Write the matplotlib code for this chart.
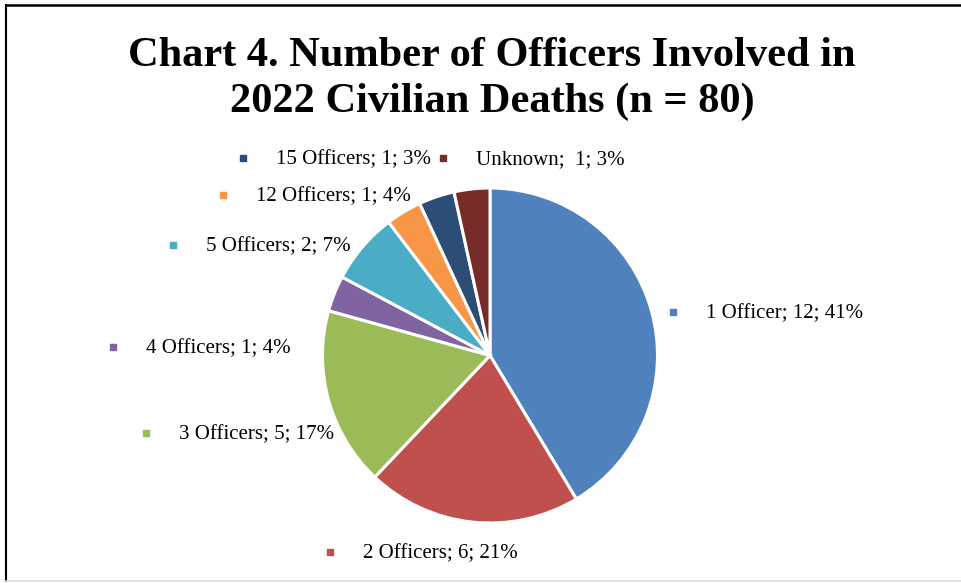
import matplotlib
matplotlib.use("Agg")
import matplotlib.pyplot as plt
from matplotlib.lines import Line2D

# Données ======================================================================
categories = ["1 Officer", "2 Officers", "3 Officers", "4 Officers",
              "5 Officers", "12 Officers", "15 Officers", "Unknown"]
counts = [12, 6, 5, 1, 2, 1, 1, 1]
pct_labels = ["41%", "21%", "17%", "4%", "7%", "4%", "3%", "3%"]
colors = ["#4F81BD", "#C0504D", "#9BBB59", "#8064A2",
          "#4BACC6", "#F79646", "#2C4D75", "#772C2A"]
title = "Chart 4. Number of Officers Involved in\n2022 Civilian Deaths (n = 80)"

# position des étiquettes (pixels, marqueur gauche, centre vertical)
W, H = 961, 583
lab_pos = [(673, 312), (330, 552), (146, 433), (113, 347),
           (173, 245), (223, 195), (243, 158), (443, 158)]

fig = plt.figure(figsize=(W / 100, H / 100), dpi=100)
fig.patch.set_facecolor("white")

# Camembert
cx, cy, r = 490, 355.5, 167.5
ax = fig.add_axes([(cx - r) / W, (H - cy - r) / H, 2 * r / W, 2 * r / H])
ax.pie(counts, colors=colors, startangle=90, counterclock=False,
       wedgeprops=dict(edgecolor="white", linewidth=2.2))
ax.set_xlim(-1, 1)
ax.set_ylim(-1, 1)
ax.set_aspect("equal")
ax.axis("off")

# Titre
fig.text(492 / W, 1 - 79 / H, title, ha="center", va="center",
         family="Liberation Serif", weight="bold", fontsize=30.5,
         linespacing=1.27)

# Etiquettes
for k in range(len(categories)):
    x, y = lab_pos[k]
    sep = ";  " if categories[k] == "Unknown" else "; "
    txt = categories[k] + sep + str(counts[k]) + "; " + pct_labels[k]
    fig.add_artist(Line2D([x / W], [1 - y / H], marker="s", markersize=4.5,
                          color=colors[k], linestyle="none"))
    fig.text((x + 33) / W, 1 - (y + 2) / H, txt, ha="left", va="center",
             family="Liberation Serif", fontsize=15)

# Cadre
fig.add_artist(Line2D([6 / W, 1], [1 - 5 / H, 1 - 5 / H], color="black", lw=1.8))
fig.add_artist(Line2D([6 / W, 6 / W], [1 - 5 / H, 1 - 581 / H], color="black", lw=1.5))
fig.add_artist(Line2D([6 / W, 1], [1 - 581 / H, 1 - 581 / H], color="#D9D9D9", lw=1.2))

fig.savefig("out.png", dpi=100)
